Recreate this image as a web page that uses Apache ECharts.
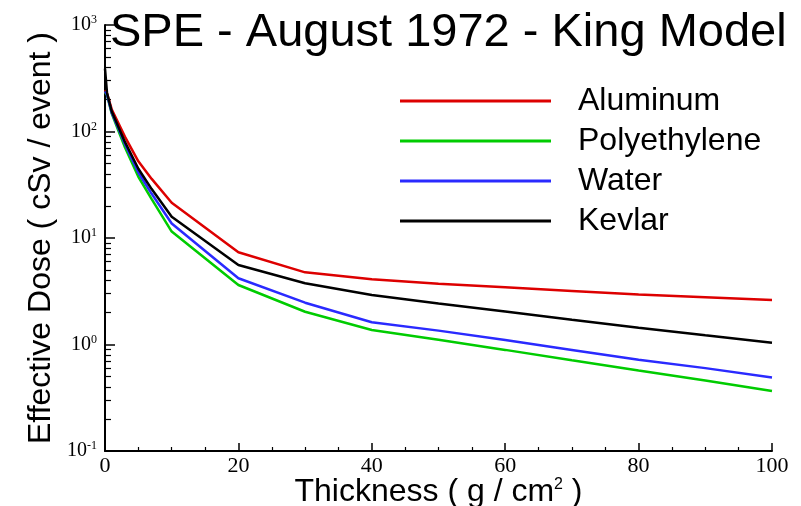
<!DOCTYPE html>
<html>
<head>
<meta charset="utf-8">
<script src="https://cdn.jsdelivr.net/npm/echarts@6/dist/echarts.min.js"></script>
<style>
  html, body { margin: 0; padding: 0; background: #fff; }
  #chart { width: 801px; height: 506px; }
</style>
</head>
<body>
<div id="chart"></div>
<script>
// * Shield thickness (g/cm2)
const thickness = [0, 0.3, 1, 2, 3, 5, 7, 10, 20, 30, 40, 50, 60, 70, 80, 90, 100];

// * Effective dose (cSv / event) per material
const aluminum = [245, 229, 162, 120, 89, 52.5, 35.9, 21.4, 7.34, 4.76, 4.1, 3.72, 3.44, 3.18, 2.95, 2.78, 2.62];
const polyethylene = [235, 220, 148, 102, 70.8, 37.6, 23.2, 11.5, 3.62, 2.03, 1.37, 1.11, 0.89, 0.71, 0.57, 0.46, 0.366];
const water = [238, 222, 151, 107, 75.9, 41.2, 26, 13.7, 4.19, 2.47, 1.62, 1.35, 1.1, 0.89, 0.72, 0.6, 0.49];
const kevlar = [390, 230, 155, 111, 79.4, 44.7, 28.8, 15.8, 5.57, 3.76, 2.92, 2.43, 2.04, 1.71, 1.44, 1.22, 1.04];

// * Tick values for the log axis
const decadeTicks = [0.1, 1, 10, 100, 1000];
const minorTicks = [
  0.2, 0.3, 0.4, 0.5, 0.6, 0.7, 0.8, 0.9,
  2, 3, 4, 5, 6, 7, 8, 9,
  20, 30, 40, 50, 60, 70, 80, 90,
  200, 300, 400, 500, 600, 700, 800, 900,
];

const sans = "'Liberation Sans', Arial, sans-serif";
const serif = "'Liberation Serif', 'Times New Roman', serif";

function toPairs(values) {
  return thickness.map((x, i) => [x, values[i]]);
}

function makeSeries(name, color, values) {
  return {
    name,
    type: "line",
    symbol: "none",
    data: toPairs(values),
    lineStyle: { color, width: 2.5 },
    itemStyle: { color },
  };
}

const chart = echarts.init(document.getElementById("chart"));

const option = {
  animation: false,
  backgroundColor: "#fff",
  title: {
    text: "SPE - August 1972 - King Model",
    left: 105,
    top: 5,
    textStyle: { fontFamily: sans, fontSize: 47, fontWeight: "normal", color: "#000" },
  },
  legend: {
    orient: "vertical",
    left: 395,
    top: 76,
    icon: "rect",
    itemWidth: 151,
    itemHeight: 3,
    itemGap: 0,
    textStyle: {
      fontFamily: sans,
      fontSize: 32,
      color: "#000",
      lineHeight: 40,
      padding: [0, 0, 0, 22],
    },
    data: ["Aluminum", "Polyethylene", "Water", "Kevlar"],
  },
  grid: { left: 105, right: 29, top: 25, bottom: 55, outerBoundsMode: "none" },
  xAxis: {
    type: "value",
    min: 0,
    max: 100,
    interval: 20,
    name: "Thickness ( g / cm{s|2} )",
    nameLocation: "middle",
    nameMoveOverlap: false,
    nameGap: 25,
    nameTextStyle: {
      fontFamily: sans,
      fontSize: 32,
      color: "#000",
      rich: { s: { fontFamily: sans, fontSize: 16, color: "#000", padding: [0, 0, 14, 0] } },
    },
    axisLine: { show: true, onZero: false, lineStyle: { color: "#000", width: 2 } },
    axisTick: { show: true, inside: true, length: 8, lineStyle: { color: "#000", width: 1.5 } },
    minorTick: { show: true, splitNumber: 4, length: 4, lineStyle: { color: "#000", width: 1.2 } },
    axisLabel: { fontFamily: serif, fontSize: 22, color: "#000", margin: 4 },
    splitLine: { show: false },
  },
  yAxis: [
    {
      // ! Main log axis with decade labels
      type: "log",
      logBase: 10,
      min: 0.1,
      max: 1000,
      name: "Effective Dose ( cSv / event )",
      nameLocation: "middle",
      nameMoveOverlap: false,
      nameGap: 48,
      nameTextStyle: { fontFamily: sans, fontSize: 32, color: "#000" },
      axisLine: { show: true, lineStyle: { color: "#000", width: 2 } },
      axisTick: { show: true, inside: true, length: 10, lineStyle: { color: "#000", width: 1.5 } },
      axisLabel: {
        customValues: decadeTicks,
        margin: 8,
        formatter: (v) => "{b|10}{s|" + Math.round(Math.log10(v)) + "}",
        rich: {
          b: { fontFamily: serif, fontSize: 20, color: "#000" },
          s: { fontFamily: serif, fontSize: 12, color: "#000", padding: [0, 0, 10, 0] },
        },
      },
      splitLine: { show: false },
    },
    {
      // ? Overlay axis in decade units, only for the 2..9 minor ticks
      type: "value",
      min: -1,
      max: 3,
      position: "left",
      axisLine: { show: false, onZero: false },
      axisTick: {
        show: true,
        inside: true,
        length: 6,
        customValues: minorTicks.map(Math.log10),
        lineStyle: { color: "#000", width: 1.2 },
      },
      axisLabel: { show: false },
      splitLine: { show: false },
    },
  ],
  series: [
    makeSeries("Aluminum", "#dd0000", aluminum),
    makeSeries("Polyethylene", "#00cc00", polyethylene),
    makeSeries("Water", "#2a2aff", water),
    makeSeries("Kevlar", "#000000", kevlar),
  ],
};

chart.setOption(option);
</script>
</body>
</html>
